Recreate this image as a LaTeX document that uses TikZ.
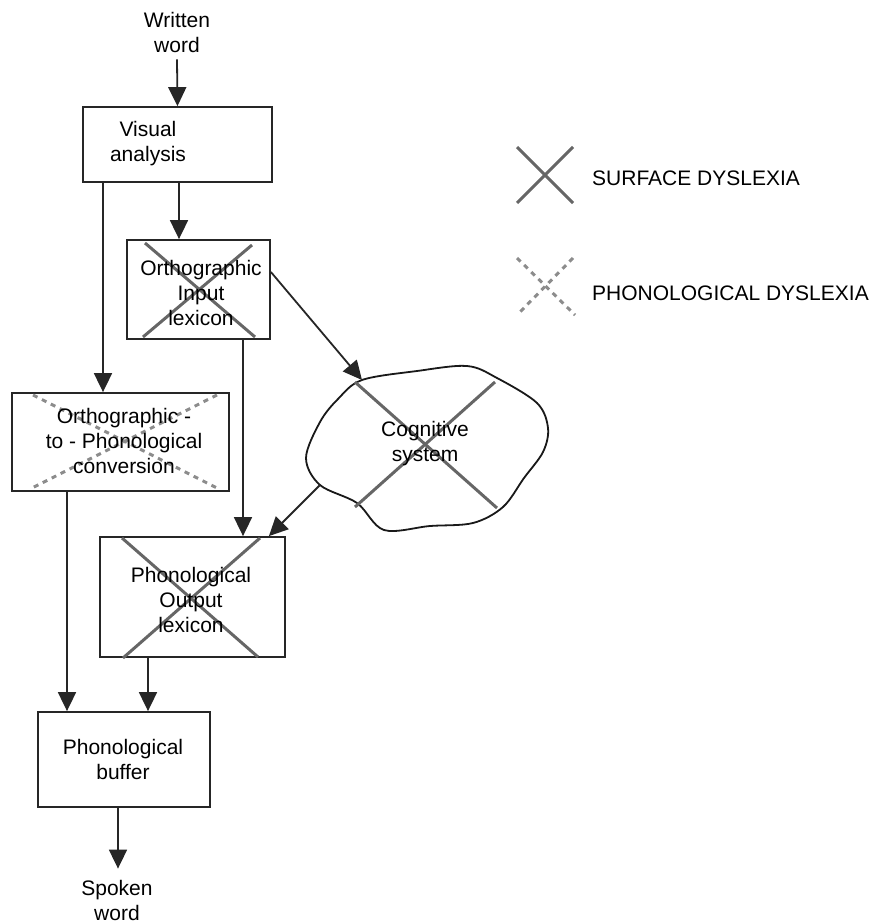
\documentclass[tikz,border=0pt]{standalone}
\usepackage{fontspec}
\setmainfont{Liberation Sans}
\usetikzlibrary{arrows.meta,calc}

\tikzset{
  box/.style={draw=black!85, line width=1.8pt, rectangle, inner sep=0pt},
  txt/.style={align=center, text=black, font=\fontsize{21}{25}\selectfont, inner sep=0pt},
  arr/.style={draw=black!85, line width=1.8pt, -{Triangle[length=19pt,width=18pt]}},
  surf/.style={draw=black!60, line width=3pt},
  phon/.style={draw=black!45, line width=3pt, dash pattern=on 5pt off 5pt},
  cloudline/.style={draw=black!90, line width=1.8pt},
}

\begin{document}
\begin{tikzpicture}[x=1pt, y=-1pt]
\useasboundingbox (0,0) rectangle (873,924);

% input and output words
\node[txt] (ww) at (177,32) {Written\\word};
\node[txt] (sw) at (117,900) {Spoken\\word};

% processing boxes
\node[box, minimum width=189, minimum height=75] (va) at (177.5,144.5) {};
\node[txt] (vatext) at (148,144) {Visual\\analysis};

\node[box, minimum width=143, minimum height=99] (oil) at (198.5,289.5) {};
\node[box, minimum width=217, minimum height=98] (otp) at (120.5,442) {};
\node[box, minimum width=185, minimum height=120] (pol) at (192.5,597) {};
\node[box, minimum width=172, minimum height=95] (pb) at (124,759.5) {};

% lesion marks: phonological dyslexia (dotted) and surface dyslexia (solid)
\draw[phon] (33,395) -- (217,488);
\draw[phon] (217,395) -- (32,488);
\draw[surf] (145,243) -- (255,337);
\draw[surf] (252,245) -- (143,337);
\draw[surf] (122,538) -- (258,657);
\draw[surf] (260,538) -- (123,658);

% cognitive system outline
\coordinate (cA) at (362,380);
\coordinate (cB) at (417,371);
\coordinate (cC) at (467,366);
\coordinate (cD) at (497,378);
\coordinate (cE) at (537,403);
\coordinate (cF) at (548,428);
\coordinate (cG) at (543,452);
\coordinate (cH) at (524,478);
\coordinate (cI) at (503,507);
\coordinate (cJ) at (473,523);
\coordinate (cK) at (430,526);
\coordinate (cL) at (384,530);
\coordinate (cM) at (357,503);
\coordinate (cN) at (320,485);
\coordinate (cO) at (306,458);
\coordinate (cP) at (320,422);
\coordinate (cQ) at (338,399);
\draw[cloudline] plot[smooth cycle, tension=0.55] coordinates
  {(cA) (cB) (cC) (cD) (cE) (cF) (cG) (cH) (cI) (cJ) (cK) (cL) (cM) (cN) (cO) (cP) (cQ)};
\draw[surf] (355,382) -- (497,508);
\draw[surf] (495,382) -- (355,507);

% box labels
\node[txt] (oiltext) at (201,293) {Orthographic\\Input\\lexicon};
\node[txt] (otptext) at (124,441) {Orthographic -\\to - Phonological\\conversion};
\node[txt] (cogtext) at (425,444) {Cognitive\\system};
\node[txt] (poltext) at (191,600) {Phonological\\Output\\lexicon};
\node[txt] (pbtext) at (123,759) {Phonological\\buffer};

% connectors
\draw[arr] ($(ww.south)+(0,7)$) -- (va.north);
\draw[arr] ($(va.south)+(1.5,0)$) -- ($(oil.north)+(-19.5,0)$);
\draw[arr] ($(va.south)+(-74.5,0)$) -- ($(otp.north)+(-17.5,0)$);
\draw[arr] ($(oil.east)+(0,-17.5)$) -- (cA);
\draw[arr] ($(oil.south)+(44.5,0)$) -- ($(pol.north)+(50.5,0)$);
\draw[arr] (cN) -- ($(pol.north east)+(-17,0)$);
\draw[arr] ($(otp.south)+(-53.5,0)$) -- ($(pb.north)+(-57,0)$);
\draw[arr] ($(pol.south)+(-44.5,0)$) -- ($(pb.north)+(24,0)$);
\draw[arr] ($(pb.south)+(-6,0)$) -- ($(sw.north)+(1,-11)$);

% legend
\draw[surf] (517,147) -- (573,203);
\draw[surf] (573,147) -- (517,203);
\node[txt, anchor=west] (lsurf) at (592,178) {SURFACE DYSLEXIA};
\draw[phon] (517,258) -- (575,315);
\draw[phon] (573,258) -- (517,315);
\node[txt, anchor=west] (lphon) at (592,293) {PHONOLOGICAL DYSLEXIA};
\end{tikzpicture}
\end{document}
